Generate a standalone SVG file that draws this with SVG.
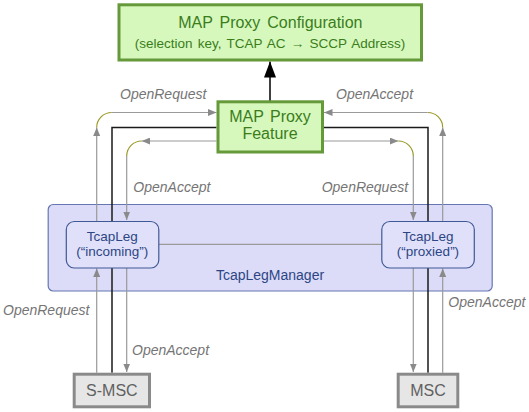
<svg xmlns="http://www.w3.org/2000/svg" width="529" height="412" viewBox="0 0 529 412">
<style>
.green{fill:#d6f8bd;stroke:#65993a;stroke-width:3}
.gtext{fill:#3b7d1b;font-family:"Liberation Sans",Arial,sans-serif;text-anchor:middle}
.mgr{fill:#dcdcf9;stroke:#6576b3;stroke-width:1.2}
.leg{fill:#e0e0fa;stroke:#3f5994;stroke-width:1.2}
.btext{fill:#2c4684;font-family:"Liberation Sans",Arial,sans-serif;font-size:14px;text-anchor:middle}
.ltext{fill:#2c4684;font-family:"Liberation Sans",Arial,sans-serif;font-size:13.5px;text-anchor:middle}
.msc{fill:#e6e6e6;stroke:#8a8a8a;stroke-width:3}
.mtext{fill:#606060;font-family:"Liberation Sans",Arial,sans-serif;font-size:16px;text-anchor:middle}
.lbl{fill:#757575;font-family:"Liberation Sans",Arial,sans-serif;font-size:14px;font-style:italic}
.g{fill:none;stroke:#9a9a9a;stroke-width:1.2}
.ga{fill:none;stroke:#9a9a9a;stroke-width:1.2;marker-end:url(#ah)}
.ol{fill:none;stroke:#9c9a2a;stroke-width:1.2}
.blk{fill:none;stroke:#1a1a1a;stroke-width:1.5}
</style>
<defs>
<marker id="ah" markerUnits="userSpaceOnUse" markerWidth="9" markerHeight="7" refX="8.5" refY="3.5" orient="auto">
<path d="M0,0 L8.5,3.5 L0,7 z" fill="#8a8a8a"/>
</marker>
<marker id="bh" markerUnits="userSpaceOnUse" markerWidth="16" markerHeight="12" refX="16" refY="6" orient="auto">
<path d="M0,0 L16,6 L0,12 z" fill="#000"/>
</marker>
</defs>

<g id="tcapLegManager">
<rect class="mgr" x="48.2" y="204.5" width="444" height="86.5" rx="5"/>
<text class="btext" x="270" y="280">TcapLegManager</text>
</g>

<g id="connectors">
<line x1="270" y1="101" x2="270" y2="61.5" stroke="#000" stroke-width="1.5" marker-end="url(#bh)"/>
<path class="blk" d="M216.5,127.5 H112 V372.7"/>
<path class="blk" d="M324,127.5 H428 V372.7"/>
<path class="ga" d="M96.7,221 V127.5"/>
<path class="ol" d="M96.7,127.5 A15,15 0 0 1 111.7,112.5"/>
<path class="ga" d="M111.7,112.5 H216.5"/>
<path class="ga" d="M216.5,141 H141.7"/>
<path class="ol" d="M141.7,141 A15,15 0 0 0 126.7,156"/>
<path class="ga" d="M126.7,156 V220"/>
<path class="ga" d="M442.7,221 V127.5"/>
<path class="ol" d="M442.7,127.5 A15,15 0 0 0 427.7,112.5"/>
<path class="ga" d="M427.7,112.5 H324"/>
<path class="ga" d="M324,141 H398.3"/>
<path class="ol" d="M398.3,141 A15,15 0 0 1 413.3,156"/>
<path class="ga" d="M413.3,156 V220"/>
<path class="ga" d="M96.7,372.7 V268.5"/>
<path class="ga" d="M126.7,268 V372"/>
<path class="ga" d="M413.3,268 V372"/>
<path class="ga" d="M442.7,372.7 V268.5"/>
<path class="g" d="M159,244.3 H381.3"/>
</g>

<g id="config">
<rect class="green" x="119" y="4.8" width="302.5" height="55.2"/>
<text class="gtext" x="270.3" y="27.7" font-size="16" word-spacing="2.5">MAP Proxy Configuration</text>
<text class="gtext" x="270" y="48" font-size="13.5" word-spacing="1.5">(selection key, TCAP AC → SCCP Address)</text>
</g>

<g id="feature">
<rect class="green" x="218" y="101.8" width="104.5" height="50.2"/>
<text class="gtext" x="270" y="121.5" font-size="16" word-spacing="2">MAP Proxy</text>
<text class="gtext" x="270" y="139" font-size="16">Feature</text>
</g>

<g id="legIncoming">
<rect class="leg" x="66.3" y="221.5" width="92.5" height="46.5" rx="8"/>
<text class="ltext" x="112.3" y="240.5">TcapLeg</text>
<text class="ltext" x="112.3" y="256">(“incoming”)</text>
</g>

<g id="legProxied">
<rect class="leg" x="381.8" y="221.5" width="92.5" height="46.5" rx="8"/>
<text class="ltext" x="428" y="240.5">TcapLeg</text>
<text class="ltext" x="428" y="256">(“proxied”)</text>
</g>

<g id="smsc">
<rect class="msc" x="74.2" y="374.2" width="75.3" height="32.6"/>
<text class="mtext" x="111.9" y="395.5">S-MSC</text>
</g>

<g id="msc">
<rect class="msc" x="398.2" y="374.2" width="59.6" height="32.6"/>
<text class="mtext" x="428" y="395.5">MSC</text>
</g>

<g id="labels">
<text class="lbl" x="120" y="98.5">OpenRequest</text>
<text class="lbl" x="336" y="98.5">OpenAccept</text>
<text class="lbl" x="133.3" y="191.7">OpenAccept</text>
<text class="lbl" x="321.7" y="191.7">OpenRequest</text>
<text class="lbl" x="3" y="315">OpenRequest</text>
<text class="lbl" x="132" y="355">OpenAccept</text>
<text class="lbl" x="448.3" y="306.7">OpenAccept</text>
</g>
</svg>
